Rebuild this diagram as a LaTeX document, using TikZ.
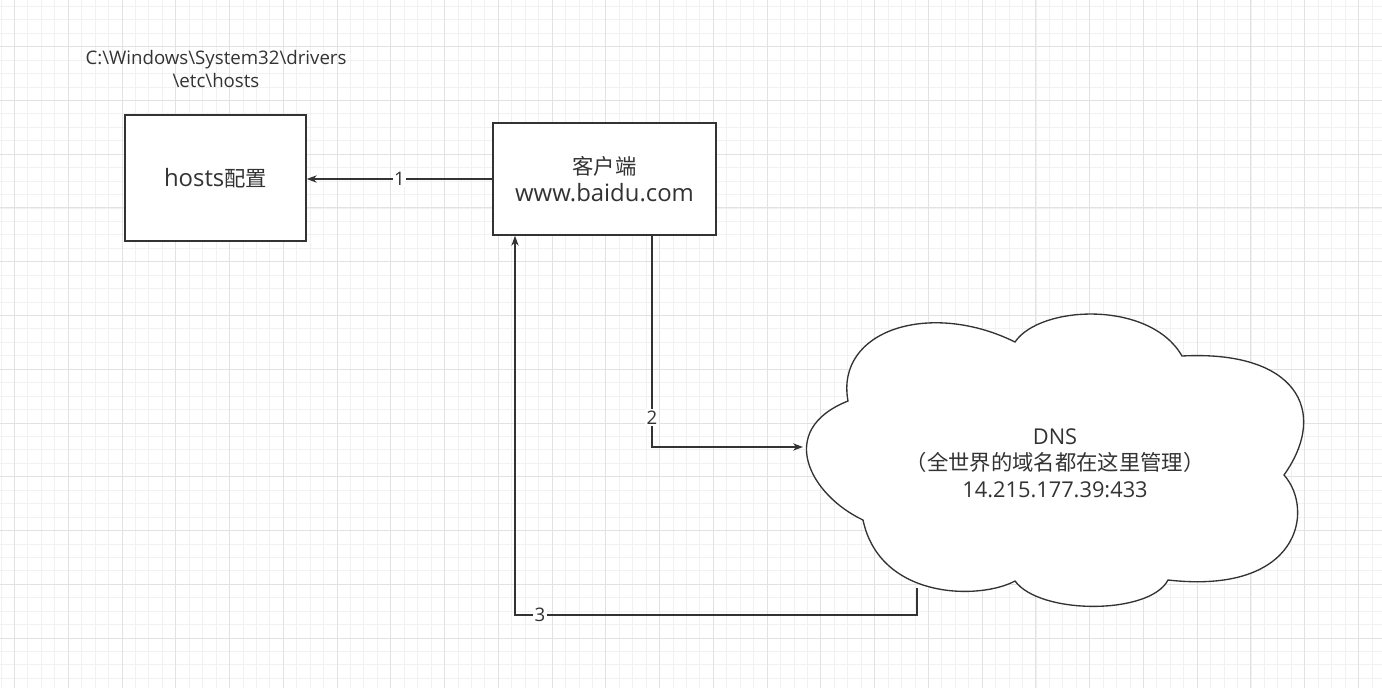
\documentclass[tikz,border=0pt]{standalone}
\usepackage{fontspec}
\setmainfont{Open Sans}[Scale=1.12]
\newfontfamily\cjk{Noto Sans CJK SC}
\usepackage{xcolor}
\definecolor{ink}{HTML}{333333}
\definecolor{gridminor}{HTML}{F1F1F1}
\definecolor{gridmajor}{HTML}{E2E2E2}
\usepackage{tikz}
\usetikzlibrary{arrows.meta, positioning, calc}
\def\pxl{0.75pt}
\tikzset{
  box/.style={
    rectangle, draw=ink, line width=1.1pt, fill=white,
    text=ink, align=center, inner sep=0pt,
    font=\fontsize{16}{20}\selectfont
  },
  arr/.style={-{Stealth[length=7.5pt, width=5.5pt]}, line width=1pt, draw=ink},
  lbl/.style={fill=white, text=ink, inner sep=1pt,
              font=\fontsize{12.5}{14}\selectfont},
  cloudline/.style={draw=ink, line width=1pt, fill=white}
}

\begin{document}
\begin{tikzpicture}[x=0.75pt, y=-0.75pt]

  \useasboundingbox (0,0) rectangle (1382,688);
  \fill[white] (0,0) rectangle (1382,688);

  %% grid
  \foreach \i in {0,...,102}
    \draw[gridminor, line width=0.75pt] (1.11+13.44*\i,0) -- ++(0,688);
  \foreach \i in {0,...,50}
    \draw[gridminor, line width=0.75pt] (0,6.43+13.44*\i) -- ++(1382,0);
  \foreach \k in {0,...,25}
    \draw[gridmajor, line width=0.75pt] (14.55+53.75*\k,0) -- ++(0,688);
  \foreach \k in {0,...,11}
    \draw[gridmajor, line width=0.75pt] (0,46.75+53.75*\k) -- ++(1382,0);

  %% hosts file
  \node[box, minimum width=181*\pxl, minimum height=126*\pxl] (hosts) at (215.5,178)
    {hosts{\cjk 配置}};
  \node[text=ink, align=center, font=\fontsize{12.5}{17}\selectfont] (hostspath) at (216,69)
    {C:\textbackslash Windows\textbackslash System32\textbackslash drivers\\
     \textbackslash etc\textbackslash hosts};

  %% client
  \node[box, minimum width=223*\pxl, minimum height=112*\pxl] (client) at (604.5,179)
    {{\cjk 客户端}\\www.baidu.com};

  %% DNS cloud
  \draw[cloudline] (848,401)
    .. controls (835,330) and (930,300) .. (1015,342)
    .. controls (1040,305) and (1150,300) .. (1182,356)
    .. controls (1295,350) and (1330,410) .. (1284,475)
    .. controls (1315,510) and (1300,595) .. (1168,580)
    .. controls (1150,615) and (1040,615) .. (1015,581)
    .. controls (980,600) and (880,600) .. (863,520)
    .. controls (810,495) and (775,430) .. cycle;
  \node[text=ink, align=center, font=\fontsize{14.6}{20}\selectfont] (dns) at (1055,463)
    {DNS\\{\cjk\fontsize{16}{20}\selectfont （全世界的域名都在这里管理）}\\14.215.177.39:433};
  \coordinate (dns-w) at (803,447);
  \coordinate (dns-s) at (917,588);
  \coordinate (ret) at (515,615);

  \draw[arr] (client.west) -- node[lbl]{1} (client.west -| hosts.east);
  \draw[arr] ([xshift=47.5*\pxl]client.south) |- node[lbl, pos=0.43]{2} (dns-w);
  \draw[arr] (dns-s) |- node[lbl, pos=0.969]{3} (ret) -- (ret |- client.south);

\end{tikzpicture}
\end{document}
